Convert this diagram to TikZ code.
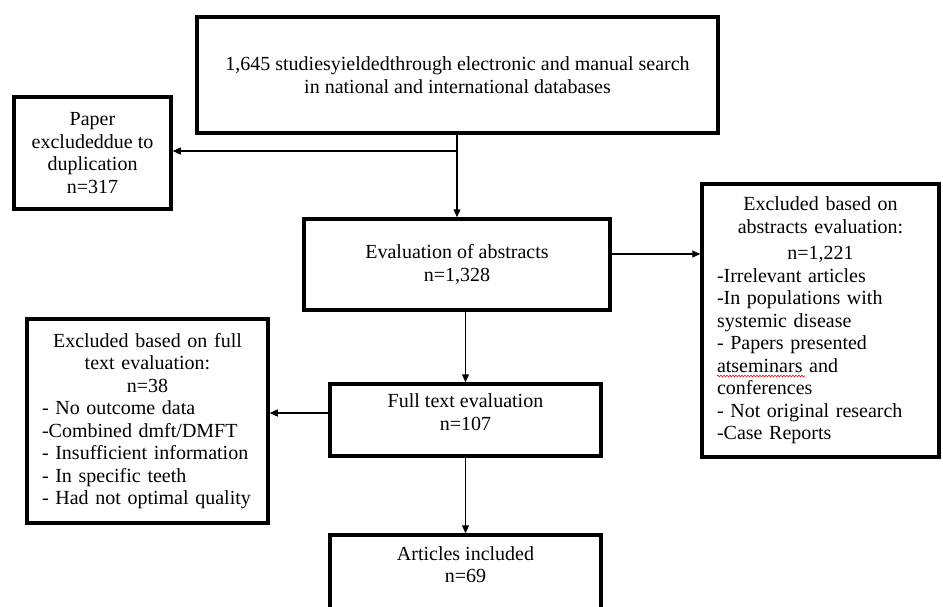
\documentclass[tikz,border=0pt]{standalone}
\usepackage{fontspec}
\setmainfont{Liberation Serif}
\usetikzlibrary{arrows.meta,decorations.pathmorphing}
\setlength{\parindent}{0pt}

\tikzset{
  flowbox/.style={draw, line width=3.5pt, inner sep=0pt, align=center},
  listbox/.style={draw, line width=3.5pt, inner xsep=0pt, inner ysep=4pt},
  arr/.style={-{Triangle[length=8pt,width=7pt]}, line width=1.2pt}
}

\begin{document}
\begin{tikzpicture}[x=1pt, y=-1pt, font=\fontsize{20}{22.5}\selectfont]
  \useasboundingbox (0,0) rectangle (943,606);
  \clip (0,0) rectangle (943,606);
  \node[flowbox, minimum width=521pt, minimum height=116pt] (top)   at (457.5,75)  {1,645 studiesyieldedthrough electronic and manual search\\ in national and international databases};
  \node[flowbox, minimum width=157pt, minimum height=112pt] (paper) at (92.5,153)  {Paper\\ excludeddue to\\ duplication\\ n=317};
  \node[flowbox, minimum width=306pt, minimum height=91pt]  (eval)  at (457,264.5) {Evaluation of abstracts\\ n=1,328};
  \node[listbox, minimum width=237pt, minimum height=273pt, text width=207pt] (abs) at (820.5,320.5)
    {{\centering Excluded based on\\ abstracts evaluation:\\[4pt] n=1,221\par}
     -Irrelevant articles\\ -In populations with\\ systemic disease\\ - Papers presented\\ atseminars and\\ conferences\\ - Not original research\\ -Case Reports};
  \node[flowbox, minimum width=271pt, minimum height=72pt, text depth=16pt] (full) at (465.5,420) {Full text evaluation\\ n=107};
  \node[listbox, minimum width=241pt, minimum height=204pt, text width=211pt] (ftx) at (147.5,421)
    {{\centering Excluded based on full\\ text evaluation:\\ n=38\par}
     - No outcome data\\ -Combined dmft/DMFT\\ - Insufficient information\\ - In specific teeth\\ - Had not optimal quality};
  \node[flowbox, minimum width=271pt, minimum height=111pt] (art)   at (465.5,590.5) {Articles included\\ n=69\\ \strut\\ \strut};
  \coordinate (split) at (457,151);

  \draw[arr] (top.south -| eval.north) -- (eval.north);
  \draw[arr] (split) -- (split -| paper.east);
  \draw[arr] ([yshift=10.5pt]eval.east) -- ([yshift=10.5pt]eval.east -| abs.west);
  \draw[arr] (full.north |- eval.south) -- (full.north);
  \draw[arr] ([yshift=7pt]full.west) -- ([yshift=7pt]full.west -| ftx.east);
  \draw[arr] (full.south) -- (art.north);
  \draw[red, line width=0.6pt, decorate, decoration={snake, amplitude=0.8pt, segment length=3pt}] (717,376) -- (805,376);
\end{tikzpicture}
\end{document}
